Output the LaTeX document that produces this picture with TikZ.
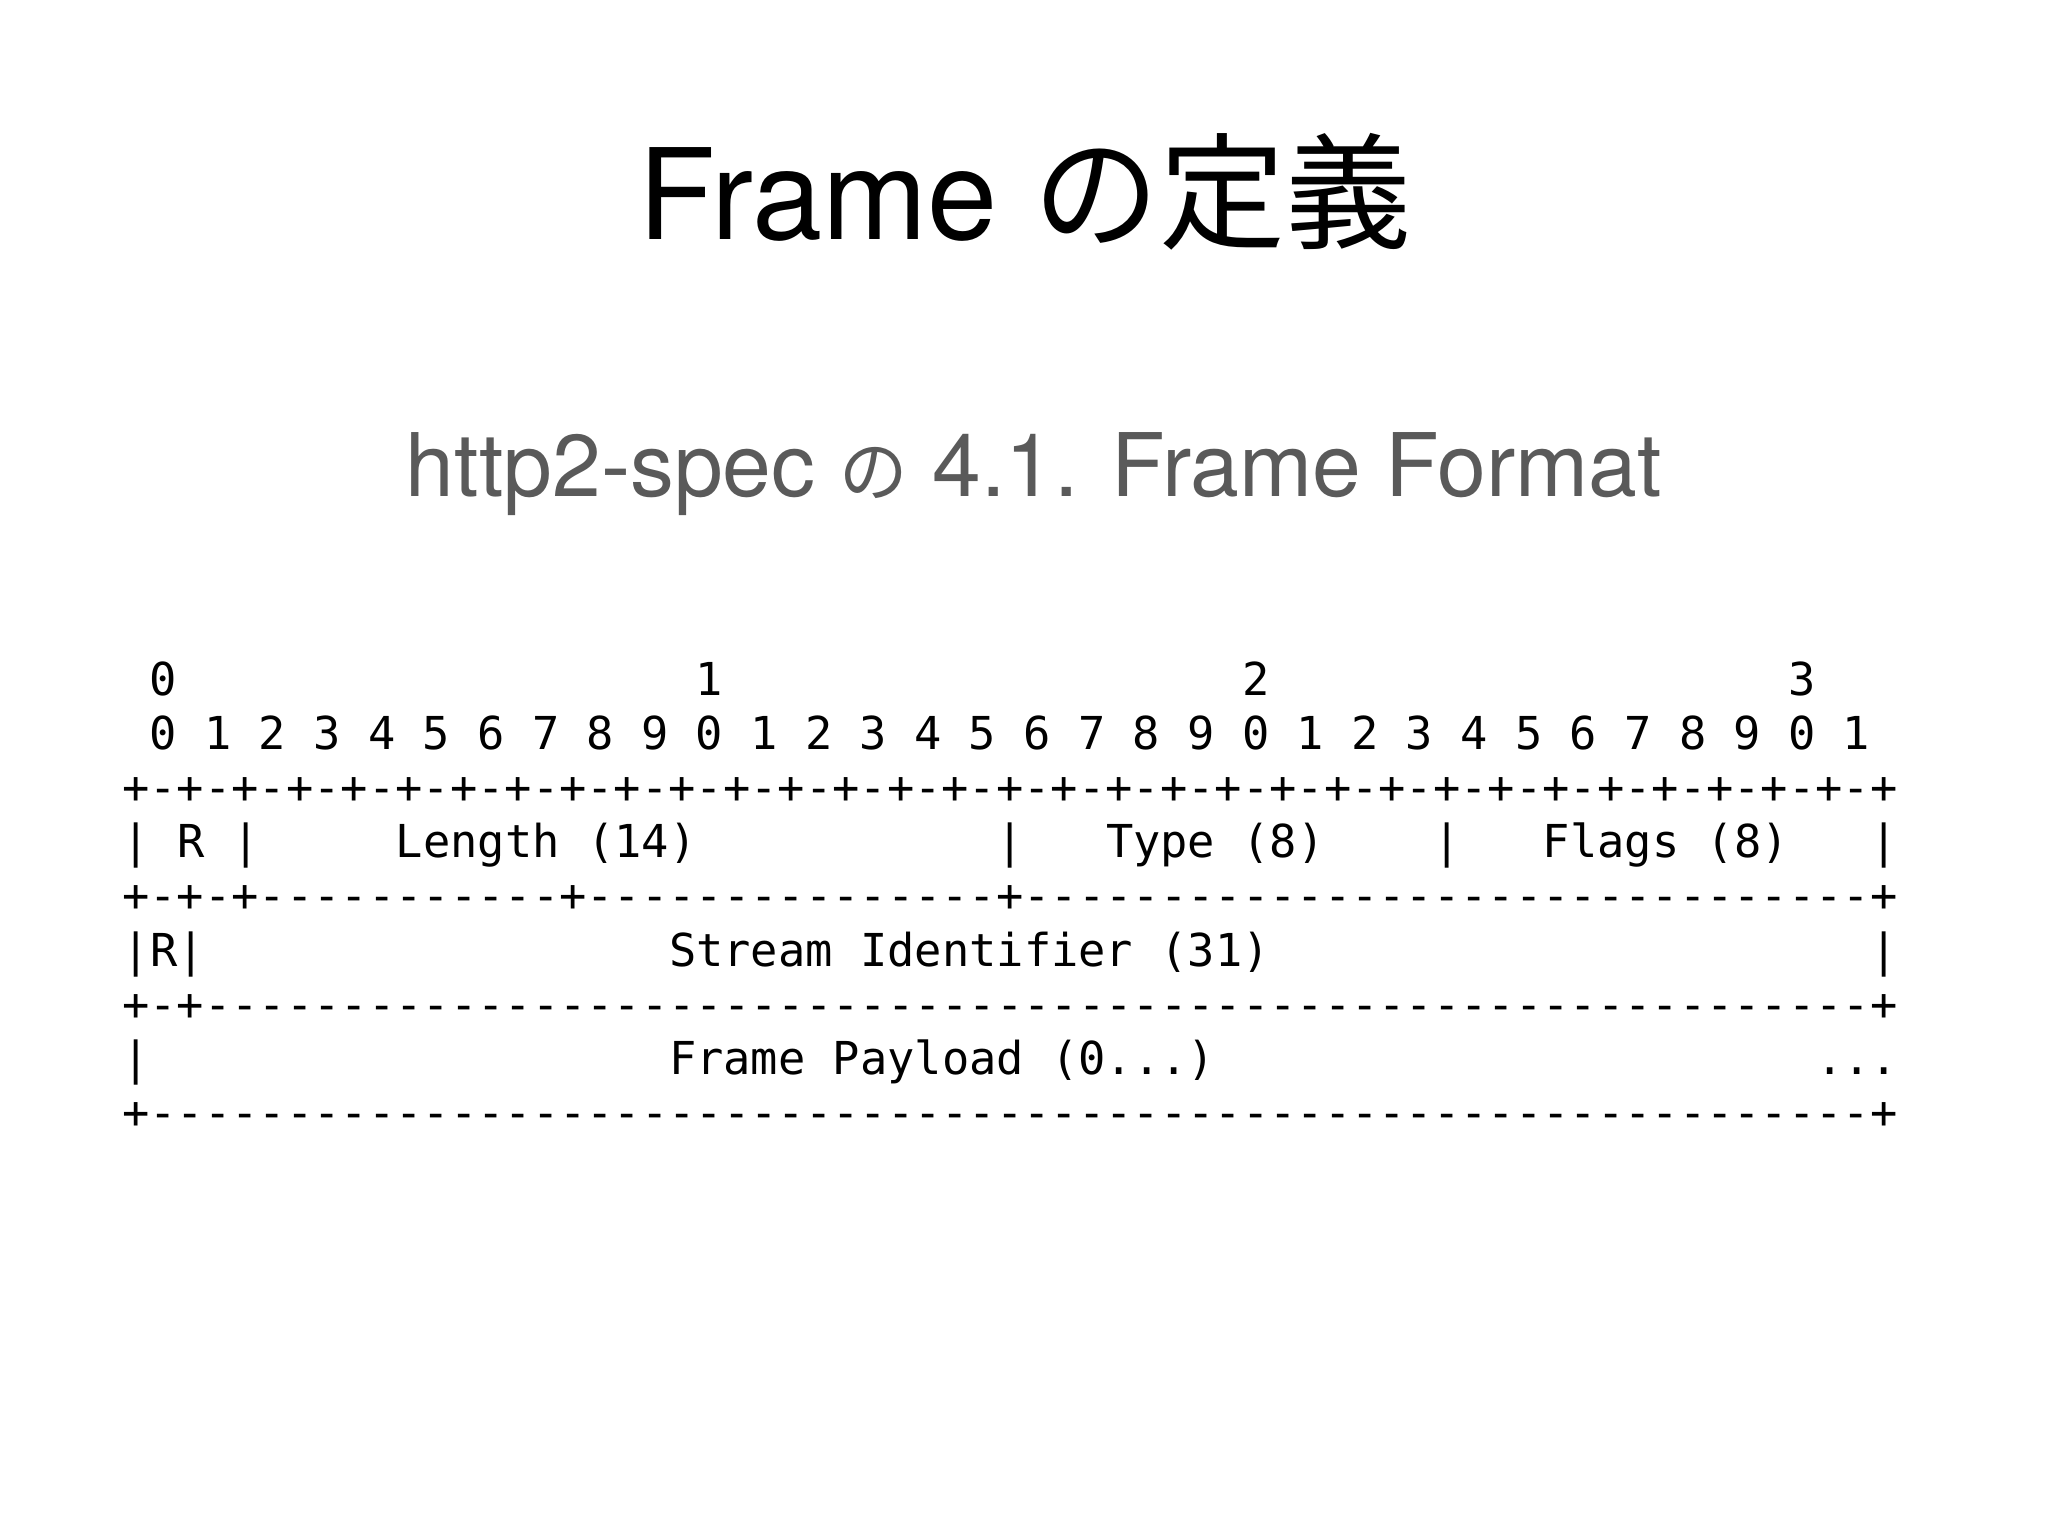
\documentclass[tikz,border=0pt]{standalone}
\usepackage{fontspec}
\setmainfont{TeX Gyre Heros}
\newfontfamily\jpfont{Noto Sans CJK JP}
\newfontfamily\monofont{DejaVu Sans Mono}
\definecolor{subgray}{HTML}{5A5A5A}
\begin{document}
\begin{tikzpicture}[x=0.375pt,y=-0.375pt,
  mono/.style={font=\fontsize{17.01}{20}\monofont, inner sep=0pt, anchor=base west},
  monoc/.style={font=\fontsize{17.01}{20}\monofont, inner sep=0pt, anchor=base},
  titletext/.style={font=\fontsize{47.3}{54}\selectfont, inner sep=0pt, anchor=base},
  subtext/.style={font=\fontsize{32.9}{38}\selectfont, text=subgray, inner sep=0pt, anchor=base}]
\useasboundingbox[fill=white] (0,0) rectangle (2048,1536);

% title and subtitle
\node[titletext] (title) at (1025,239) {Frame {\jpfont の定義}};
\node[subtext] (subtitle) at (1034,496) {http2-spec {\jpfont\scalebox{0.78}{の}} 4.1. Frame Format};

% row 0: tens
\foreach \c/\d in {1/0,21/1,41/2,61/3}
  \node[monoc] (tens-\c) at ({136+27.31*\c},695) {\d};
% row 1: units
\foreach \i in {0,...,31} {
  \pgfmathtruncatemacro{\dg}{mod(\i,10)}
  \pgfmathtruncatemacro{\cc}{2*\i+1}
  \node[monoc] (unit-\cc) at ({136+27.31*\cc},749) {\dg};
}
% row 2: +-+-...
\foreach \c in {0,2,...,64}
  \node[monoc] (pa-\c) at ({136+27.31*\c},803) {+};
\foreach \c in {1,3,...,63}
  \node[monoc] (da-\c) at ({136+27.31*\c},803) {-};
% row 3
\node[mono] (r3a) at ({122.3+27.31*0},857) {|};
\node[mono] (r3b) at ({122.3+27.31*2},857) {R};
\node[mono] (r3c) at ({122.3+27.31*4},857) {|};
\node[mono] (r3d) at ({122.3+27.31*10},857) {Length (14)};
\node[mono] (r3e) at ({122.3+27.31*32},857) {|};
\node[mono] (r3f) at ({122.3+27.31*36},857) {Type (8)};
\node[mono] (r3g) at ({122.3+27.31*48},857) {|};
\node[mono] (r3h) at ({122.3+27.31*52},857) {Flags (8)};
\node[mono] (r3i) at ({122.3+27.31*64},857) {|};
% row 4
\foreach \c in {0,2,4,16,32,64}
  \node[monoc] (pb-\c) at ({136+27.31*\c},911) {+};
\foreach \c in {1,3}
  \node[monoc] (db-\c) at ({136+27.31*\c},911) {-};
\foreach \c in {5,...,15}
  \node[monoc] (db-\c) at ({136+27.31*\c},911) {-};
\foreach \c in {17,...,31}
  \node[monoc] (db-\c) at ({136+27.31*\c},911) {-};
\foreach \c in {33,...,63}
  \node[monoc] (db-\c) at ({136+27.31*\c},911) {-};
% row 5
\node[mono] (r5a) at ({122.3+27.31*0},966) {|};
\node[mono] (r5b) at ({122.3+27.31*1},966) {R};
\node[mono] (r5c) at ({122.3+27.31*2},966) {|};
\node[mono] (r5d) at ({122.3+27.31*20},966) {Stream Identifier (31)};
\node[mono] (r5e) at ({122.3+27.31*64},966) {|};
% row 6
\foreach \c in {0,2,64}
  \node[monoc] (pc-\c) at ({136+27.31*\c},1020) {+};
\foreach \c in {1,3,...,63}
  \node[monoc] (dc-\c) at ({136+27.31*\c},1020) {-};
\foreach \c in {4,6,...,62}
  \node[monoc] (dc-\c) at ({136+27.31*\c},1020) {-};
% row 7
\node[mono] (r7a) at ({122.3+27.31*0},1074) {|};
\node[mono] (r7b) at ({122.3+27.31*20},1074) {Frame Payload (0...)};
\node[mono] (r7c) at ({122.3+27.31*62},1074) {...};
% row 8
\foreach \c in {0,64}
  \node[monoc] (pd-\c) at ({136+27.31*\c},1128) {+};
\foreach \c in {1,...,63}
  \node[monoc] (dd-\c) at ({136+27.31*\c},1128) {-};
\end{tikzpicture}
\end{document}
